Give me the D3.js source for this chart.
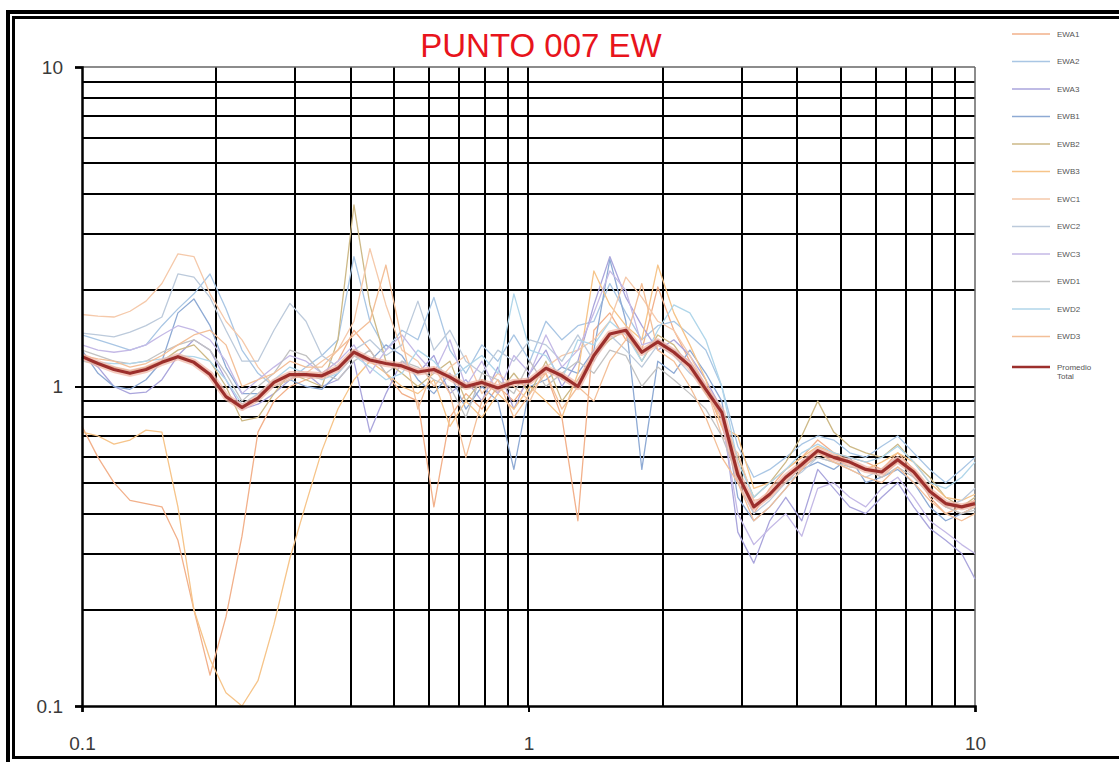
<!DOCTYPE html>
<html>
<head>
<meta charset="utf-8">
<script src="https://cdn.jsdelivr.net/npm/d3@7/dist/d3.min.js"></script>
<style>
  body { margin: 0; background: #fff; }
</style>
</head>
<body>
<div class="vis-chart"></div>
<script>
// frequencies shared by every record (Hz)
const freq = [0.100, 0.1086, 0.1179, 0.1281, 0.1391, 0.1510, 0.1640, 0.1781, 0.1935, 0.2101,
  0.2282, 0.2478, 0.2691, 0.2922, 0.3174, 0.3446, 0.3743, 0.4065, 0.4414, 0.4794,
  0.5206, 0.5653, 0.6139, 0.6667, 0.7240, 0.7863, 0.8539, 0.9273, 1.007, 1.094,
  1.188, 1.290, 1.401, 1.521, 1.652, 1.794, 1.948, 2.116, 2.298, 2.495,
  2.710, 2.943, 3.196, 3.470, 3.769, 4.093, 4.444, 4.827, 5.241, 5.692,
  6.181, 6.713, 7.290, 7.917, 8.597, 9.336, 10.0];

const EWA1 = [0.75,0.60,0.50,0.44,0.43,0.42,0.33,0.20,0.125,0.19,0.34,
  0.72,0.90,1.00,1.05,1.10,1.20,1.50,1.30,1.10,0.95,
  0.90,0.42,0.80,0.95,0.85,1.00,0.90,1.05,1.10,0.80,0.38,
  1.50,1.70,1.40,1.30,2.05,1.50,1.20,1.00,0.75,
  0.55,0.40,0.48,0.55,0.60,0.68,0.62,0.60,0.58,0.55,0.62,0.55,0.45,0.40,0.42,0.44];
const EWA2 = [1.45,1.40,1.35,1.30,1.35,1.55,1.75,1.95,2.25,1.75,1.30,
  1.10,1.00,1.05,1.15,1.25,1.40,2.55,1.60,1.30,1.50,
  1.40,1.90,1.30,1.10,1.35,1.20,1.45,1.20,1.60,1.40,1.55,
  1.60,2.10,1.70,1.40,1.55,1.60,1.45,1.30,1.00,
  0.65,0.52,0.55,0.60,0.66,0.70,0.68,0.62,0.60,0.65,0.70,0.62,0.55,0.50,0.55,0.60];
const EWA3 = [1.25,1.15,1.00,0.95,0.96,1.05,1.25,1.40,1.30,1.05,0.85,
  0.88,0.95,1.05,1.10,1.00,1.05,1.20,0.72,0.95,1.20,
  1.10,1.25,0.95,1.05,0.90,1.15,0.85,1.10,1.30,1.00,1.20,
  1.80,2.55,1.90,1.55,1.30,1.40,1.25,1.05,0.85,
  0.35,0.28,0.38,0.45,0.38,0.55,0.48,0.42,0.40,0.45,0.50,0.42,0.36,0.33,0.30,0.25];
const EWB1 = [1.30,1.10,1.00,0.98,1.05,1.20,1.70,1.88,1.55,1.15,0.95,
  0.95,1.00,1.05,1.00,0.98,1.10,1.25,1.20,1.35,1.25,
  1.05,0.95,1.10,0.85,1.00,0.90,0.55,1.00,1.05,1.15,1.10,
  1.30,2.50,1.60,0.55,1.20,1.10,1.30,1.10,0.90,
  0.45,0.38,0.42,0.48,0.55,0.58,0.55,0.60,0.50,0.52,0.55,0.50,0.42,0.38,0.40,0.42];
const EWB2 = [1.20,1.18,1.15,1.12,1.15,1.20,1.30,1.35,1.20,1.00,0.78,
  0.80,0.95,1.10,1.05,1.00,1.40,3.70,1.80,1.20,1.10,
  1.00,1.10,1.20,0.90,1.05,0.95,1.10,0.95,1.20,0.90,1.05,
  1.25,1.40,1.50,1.20,1.45,1.35,1.15,0.95,0.80,
  0.60,0.45,0.50,0.58,0.70,0.90,0.72,0.65,0.62,0.60,0.66,0.58,0.52,0.45,0.42,0.45];
const EWB3 = [0.72,0.70,0.66,0.68,0.73,0.72,0.42,0.20,0.14,0.11,0.10,
  0.12,0.18,0.29,0.43,0.63,0.85,1.05,1.20,1.10,1.00,
  0.95,1.05,0.75,0.90,0.80,0.95,0.85,1.00,0.90,0.80,1.10,
  2.30,1.80,1.55,1.40,2.40,1.70,1.35,1.05,0.75,
  0.70,0.48,0.50,0.55,0.60,0.65,0.62,0.58,0.55,0.58,0.62,0.58,0.50,0.45,0.44,0.46];
const EWC1 = [1.68,1.66,1.65,1.72,1.85,2.10,2.60,2.55,1.95,1.60,1.40,
  1.15,1.00,1.05,1.10,1.20,1.30,1.60,2.70,1.80,1.30,
  1.20,1.00,1.15,1.25,0.95,1.10,1.00,0.90,1.15,1.25,1.30,
  1.40,1.60,2.20,1.90,1.60,1.50,1.25,1.00,0.70,
  0.62,0.44,0.45,0.52,0.58,0.62,0.60,0.56,0.55,0.52,0.58,0.55,0.48,0.42,0.40,0.42];
const EWC2 = [1.47,1.45,1.43,1.48,1.55,1.65,2.25,2.20,1.90,1.50,1.20,
  1.20,1.50,1.82,1.60,1.25,1.15,1.30,1.40,1.25,1.35,
  1.85,1.30,1.50,1.20,1.10,1.30,1.20,1.40,1.35,1.20,1.45,
  1.20,1.45,1.30,1.15,1.35,1.25,1.10,1.00,0.85,
  0.50,0.40,0.44,0.50,0.54,0.60,0.58,0.55,0.52,0.55,0.60,0.52,0.46,0.42,0.44,0.48];
const EWC3 = [1.35,1.30,1.28,1.30,1.35,1.45,1.55,1.50,1.40,1.20,0.95,
  1.05,1.15,1.25,1.20,1.10,1.20,1.35,1.10,1.30,1.45,
  1.25,1.10,1.40,1.00,1.20,0.95,1.25,1.10,1.45,1.15,1.30,
  1.70,2.30,2.00,1.35,1.40,1.30,1.20,1.00,0.80,
  0.40,0.32,0.36,0.40,0.34,0.48,0.50,0.45,0.42,0.48,0.52,0.45,0.38,0.35,0.32,0.30];
const EWD1 = [1.30,1.25,1.20,1.18,1.20,1.28,1.35,1.40,1.30,1.10,0.90,
  1.00,1.10,1.30,1.25,1.10,1.05,1.20,1.30,1.10,1.20,
  1.15,1.05,1.00,0.80,1.10,1.05,0.95,1.20,1.00,1.10,1.20,
  1.10,1.30,1.25,1.00,1.15,1.05,0.95,0.85,0.70,
  0.52,0.42,0.46,0.50,0.56,0.60,0.58,0.56,0.55,0.52,0.56,0.52,0.46,0.42,0.40,0.41];
const EWD2 = [1.20,1.19,1.18,1.18,1.20,1.22,1.25,1.24,1.20,1.05,0.88,
  0.95,1.05,1.15,1.10,1.05,1.10,1.25,1.15,1.05,1.10,
  1.30,1.20,1.05,1.15,1.25,1.10,1.95,1.30,1.25,1.05,1.40,
  1.35,1.60,1.45,1.20,1.50,1.80,1.70,1.40,1.00,
  0.58,0.45,0.50,0.55,0.62,0.66,0.62,0.60,0.58,0.60,0.65,0.58,0.50,0.48,0.52,0.58];
const EWD3 = [1.25,1.22,1.20,1.15,1.18,1.25,1.35,1.45,1.50,1.35,1.00,
  1.05,1.10,1.20,1.15,1.15,1.30,1.45,1.60,2.40,1.40,
  0.85,1.15,0.95,0.60,0.90,1.05,0.80,0.95,1.10,0.85,1.00,
  0.90,1.20,1.40,2.10,1.30,1.20,1.00,0.80,0.60,
  0.50,0.38,0.42,0.48,0.55,0.62,0.58,0.55,0.52,0.50,0.56,0.50,0.44,0.40,0.38,0.40];
const promedio = [1.24,1.18,1.13,1.10,1.13,1.19,1.24,1.19,1.09,0.93,
  0.86,0.92,1.03,1.09,1.09,1.08,1.14,1.28,1.21,1.18,
  1.16,1.11,1.13,1.07,1.00,1.03,0.99,1.03,1.04,1.14,
  1.08,1.00,1.25,1.46,1.50,1.28,1.38,1.28,1.16,0.98,
  0.83,0.53,0.42,0.46,0.52,0.57,0.63,0.60,0.58,0.55,
  0.54,0.59,0.54,0.47,0.43,0.42,0.43];

const seriesNames = ["EWA1", "EWA2", "EWA3", "EWB1", "EWB2", "EWB3", "EWC1", "EWC2", "EWC3", "EWD1", "EWD2", "EWD3"];
const seriesValues = [EWA1, EWA2, EWA3, EWB1, EWB2, EWB3, EWC1, EWC2, EWC3, EWD1, EWD2, EWD3];
const seriesColors = ["#f2b08a", "#a9c6e4", "#aaa5dc", "#8eaad4", "#cdb987", "#f6c489",
  "#f5c9aa", "#bccadb", "#c4b9e6", "#c2c2c2", "#b0d6ea", "#f3bf98"];
const avgName = "Promedio Total";
const xTickLabels = [0.1, 1, 10];
const yTickLabels = [10, 1, 0.1];
const gridValues = [0.2, 0.3, 0.4, 0.5, 0.6, 0.7, 0.8, 0.9, 1, 2, 3, 4, 5, 6, 7, 8, 9];
const chartTitle = "PUNTO 007 EW";

const config = {
  "grid-color": "#000",
  "label-color": "#3a3a3a",
  "title-color": "#e8141c",
  "avg-color": "#9c2f2c",
  "legend-text-color": "#555"
};

const draw = () => {
  const W = 1119, H = 762;
  const margin = { top: 67, right: 144, bottom: 56, left: 82 };
  const width = W - margin.left - margin.right;   // 893
  const height = H - margin.top - margin.bottom;  // 639

  const root = d3.select('.vis-chart')
    .append("svg")
    .attr("width", W)
    .attr("height", H)
    .style("display", "block");

  root.append("rect").attr("width", W).attr("height", H).attr("fill", "#fff");

  // double frame
  root.append("rect")
    .attr("x", 8).attr("y", 12).attr("width", W + 20).attr("height", H + 20)
    .attr("fill", "none").attr("stroke", "#000").attr("stroke-width", 4);
  root.append("rect")
    .attr("x", 13.5).attr("y", 17.5).attr("width", W + 20).attr("height", 740)
    .attr("fill", "none").attr("stroke", "#000").attr("stroke-width", 3);

  const svg = root.append("g")
    .attr("transform", "translate(" + margin.left + "," + margin.top + ")");

  const x = d3.scaleLog().domain([0.1, 10]).range([0, width]);
  const y = d3.scaleLog().domain([0.1, 10]).range([height, 0]);

  // grid
  svg.selectAll(".vgrid")
    .data(gridValues)
    .enter()
    .append("line")
    .attr("x1", d => Math.round(x(d)))
    .attr("x2", d => Math.round(x(d)))
    .attr("y1", 0)
    .attr("y2", height)
    .attr("stroke", config["grid-color"])
    .attr("stroke-width", 2);
  svg.selectAll(".hgrid")
    .data(gridValues)
    .enter()
    .append("line")
    .attr("x1", 0)
    .attr("x2", width)
    .attr("y1", d => Math.round(y(d)))
    .attr("y2", d => Math.round(y(d)))
    .attr("stroke", config["grid-color"])
    .attr("stroke-width", 2);
  // top and right edges (lighter)
  svg.append("line").attr("x1", 0).attr("x2", width).attr("y1", y(10)).attr("y2", y(10))
    .attr("stroke", "#666").attr("stroke-width", 1.5);
  svg.append("line").attr("x1", x(10)).attr("x2", x(10)).attr("y1", 0).attr("y2", height)
    .attr("stroke", "#666").attr("stroke-width", 1.5);

  // records
  const line = d3.line()
    .x((d, i) => x(freq[i]))
    .y(d => y(d));

  svg.selectAll(".record")
    .data(seriesValues)
    .enter()
    .append("path")
    .attr("class", "record")
    .attr("d", d => line(d))
    .attr("fill", "none")
    .attr("stroke", (d, i) => seriesColors[i])
    .attr("stroke-width", 1.3)
    .attr("stroke-linejoin", "round");

  // average
  svg.append("path")
    .attr("d", line(promedio))
    .attr("fill", "none")
    .attr("stroke", "#f1b3a3")
    .attr("stroke-width", 7)
    .attr("stroke-opacity", 0.7)
    .attr("stroke-linejoin", "round");
  svg.append("path")
    .attr("d", line(promedio))
    .attr("fill", "none")
    .attr("stroke", config["avg-color"])
    .attr("stroke-width", 3.2)
    .attr("stroke-linejoin", "round");

  // axes
  const xAxis = svg.append("g")
    .attr("transform", "translate(0," + height + ")")
    .call(d3.axisBottom(x).tickValues(xTickLabels).tickSize(6).tickFormat(d3.format("")));
  const yAxis = svg.append("g")
    .call(d3.axisLeft(y).tickValues(yTickLabels).tickSize(7).tickFormat(d3.format("")));
  [xAxis, yAxis].forEach(a => {
    a.select(".domain").attr("stroke", "#000").attr("stroke-width", 2.5);
    a.selectAll(".tick line").attr("stroke", "#000").attr("stroke-width", 2);
    a.selectAll("text")
      .attr("fill", config["label-color"])
      .style("font-family", "'Liberation Sans', Arial, sans-serif")
      .style("font-size", "19px");
  });
  xAxis.selectAll("text").attr("y", 31);
  yAxis.selectAll("text").attr("x", -19);

  // title
  root.append("text")
    .attr("x", 541)
    .attr("y", 57)
    .attr("text-anchor", "middle")
    .attr("fill", config["title-color"])
    .style("font-family", "'Liberation Sans', Arial, sans-serif")
    .style("font-size", "33px")
    .text(chartTitle);

  // legend
  const legend = root.append("g").attr("transform", "translate(1012, 34)");
  const items = legend.selectAll(".legend_item")
    .data(seriesNames)
    .enter()
    .append("g")
    .attr("class", "legend_item")
    .attr("transform", (d, i) => `translate(0, ${i * 27.5})`);
  items.append("line")
    .attr("x1", 0).attr("x2", 38)
    .attr("stroke", (d, i) => seriesColors[i])
    .attr("stroke-width", 1.3);
  items.append("text")
    .attr("x", 45)
    .attr("dy", "0.35em")
    .attr("fill", config["legend-text-color"])
    .style("font-family", "'Liberation Sans', Arial, sans-serif")
    .style("font-size", "8px")
    .text(d => d);

  const avgItem = legend.append("g").attr("transform", "translate(0, 333)");
  avgItem.append("line")
    .attr("x1", 0).attr("x2", 38)
    .attr("stroke", config["avg-color"])
    .attr("stroke-width", 2.5);
  const avgText = avgItem.append("text")
    .attr("x", 45)
    .attr("fill", config["legend-text-color"])
    .style("font-family", "'Liberation Sans', Arial, sans-serif")
    .style("font-size", "8px");
  avgName.split(" ").forEach((w, i) => {
    avgText.append("tspan").attr("x", 45).attr("dy", i === 0 ? "0.35em" : "1.2em").text(w);
  });

  return svg;
};

draw();
</script>
</body>
</html>
